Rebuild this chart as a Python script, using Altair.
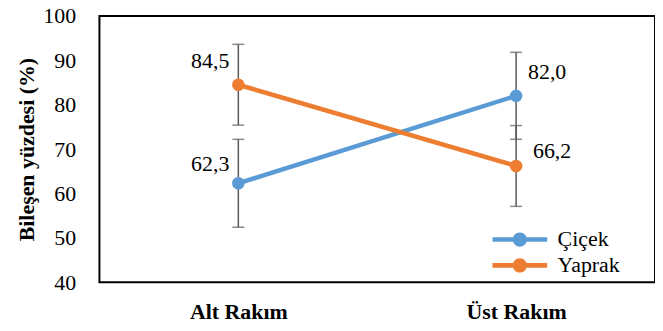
import altair as alt
import pandas as pd

categories = ["Alt Rakım", "Üst Rakım"]
series = ["Çiçek", "Yaprak"]
cicek = [62.3, 82.0]
yaprak = [84.5, 66.2]
cicek_err = [9.9, 9.8]
yaprak_err = [9.1, 9.1]
y_ticks = [40, 50, 60, 70, 80, 90, 100]
colors = ["#5B9BD5", "#ED7D31"]

rows = []
for s, vals, errs in [("Çiçek", cicek, cicek_err), ("Yaprak", yaprak, yaprak_err)]:
    for c, v, e in zip(categories, vals, errs):
        rows.append({"Rakım": c, "Seri": s, "Değer": v, "Alt": v - e, "Üst": v + e,
                     "Etiket": f"{v:.1f}".replace(".", ",")})
df = pd.DataFrame(rows)

FONT = "Liberation Serif"
x_axis = alt.Axis(title=None, labelAngle=0, labelFontWeight="bold", labelFontSize=22,
                  labelPadding=19, domain=False, ticks=False, labelColor="black", labelFont=FONT)
x = alt.X("Rakım:N", sort=categories, scale=alt.Scale(type="point", padding=0.5), axis=x_axis)
y_scale = alt.Scale(domain=[40, 100], nice=False, zero=False)
y_axis = alt.Axis(title="Bileşen yüzdesi (%)", values=y_ticks, grid=False, domain=False, ticks=False,
                  labelFontSize=22, labelFont=FONT, labelColor="black", labelPadding=24,
                  titleFont=FONT, titleFontSize=22, titleFontWeight="bold", titleColor="black",
                  titlePadding=4)

def yy(field):
    return alt.Y(f"{field}:Q", scale=y_scale, axis=y_axis)

legend_path = ("M-2.5,-0.21L2.5,-0.21L2.5,0.21L-2.5,0.21Z "
               "M0.65,0A0.65,0.65 0 1,1 -0.65,0A0.65,0.65 0 1,1 0.65,0Z")
color = alt.Color("Seri:N", scale=alt.Scale(domain=series, range=colors),
                  legend=alt.Legend(title=None, orient="none", legendX=412, legendY=214,
                                    symbolType=legend_path, symbolSize=484, symbolStrokeWidth=0,
                                    symbolOpacity=1, labelOffset=27, labelFontSize=22, labelFont=FONT,
                                    labelColor="black", rowPadding=4, padding=0))

base = alt.Chart(df)
ERR = "#595959"
rule = base.mark_rule(color=ERR, strokeWidth=1.5).encode(x=x, y=yy("Alt"), y2="Üst:Q")
cap_lo = base.mark_tick(color=ERR, thickness=1.5, size=12, orient="horizontal").encode(x=x, y=yy("Alt"))
cap_hi = base.mark_tick(color=ERR, thickness=1.5, size=12, orient="horizontal").encode(x=x, y=yy("Üst"))

layers = [rule, cap_lo, cap_hi]
for s in series:
    layers.append(
        base.transform_filter(alt.datum.Seri == s)
        .mark_line(strokeWidth=4.5, point=alt.OverlayMarkDef(filled=True, size=160, opacity=1))
        .encode(x=x, y=yy("Değer"), color=color)
    )

label_specs = [
    ("Yaprak", "Alt Rakım", "right", -9, -24),
    ("Çiçek", "Alt Rakım", "right", -9, -19),
    ("Çiçek", "Üst Rakım", "left", 12, -24),
    ("Yaprak", "Üst Rakım", "left", 17, -15),
]
for s, c, al, dx, dy in label_specs:
    layers.append(
        base.transform_filter((alt.datum.Seri == s) & (alt.datum["Rakım"] == c))
        .mark_text(font=FONT, fontSize=22, color="black", align=al, baseline="middle", dx=dx, dy=dy)
        .encode(x=x, y=yy("Değer"), text="Etiket:N")
    )

chart = alt.layer(*layers).properties(
    width=559, height=268,
    autosize=alt.AutoSizeParams(type="none"),
    padding={"left": 92, "top": 7, "right": 0, "bottom": 40},
    background="white",
).configure_view(stroke="#000000", strokeWidth=2, strokeOpacity=1)

chart.save("out.html", embed_options={"renderer": "svg", "actions": False})
